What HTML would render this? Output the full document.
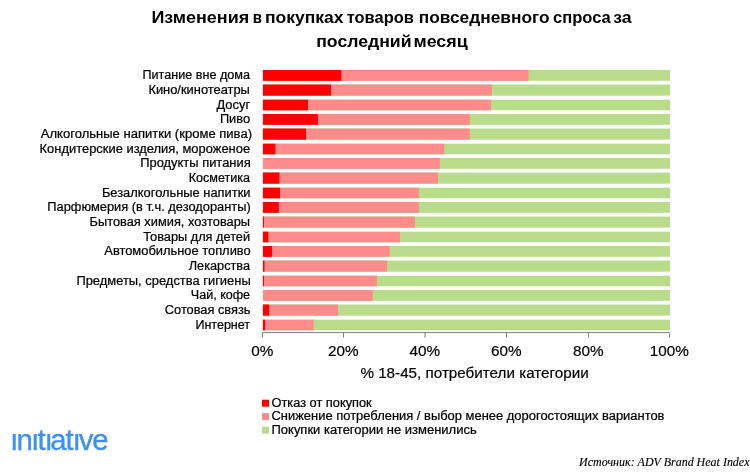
<!DOCTYPE html>
<html lang="ru"><head><meta charset="utf-8"><title>Изменения в покупках товаров повседневного спроса</title>
<style>html,body{margin:0;padding:0;background:#fff}svg{display:block}text{font-family:"Liberation Sans",sans-serif;fill:#000}.t{font-weight:bold;font-size:16.9px}.c{font-size:12.3px;stroke:#000;stroke-width:.22px}.ax{font-size:15.3px;stroke:#000;stroke-width:.2px;text-anchor:middle}.lg{font-size:12.3px;stroke:#000;stroke-width:.22px}.src{font-family:"Liberation Serif",serif;font-style:italic;font-size:12px;fill:#000;stroke:#000;stroke-width:.12px}.logo{font-size:29.3px;fill:#3f8ff2;stroke:#3f8ff2;stroke-width:.35px}</style></head><body>
<svg width="750" height="472" viewBox="0 0 750 472">
<rect width="750" height="472" fill="#fff"/>
<text class="t" y="22.7"><tspan x="151.4" textLength="97.8" lengthAdjust="spacingAndGlyphs">Изменения</tspan> <tspan x="252.8" textLength="9.2" lengthAdjust="spacingAndGlyphs">в</tspan> <tspan x="265.0" textLength="78.6" lengthAdjust="spacingAndGlyphs">покупках</tspan> <tspan x="346.7" textLength="67.2" lengthAdjust="spacingAndGlyphs">товаров</tspan> <tspan x="418.7" textLength="130.9" lengthAdjust="spacingAndGlyphs">повседневного</tspan> <tspan x="553.0" textLength="57.8" lengthAdjust="spacingAndGlyphs">спроса</tspan> <tspan x="613.2" textLength="18.4" lengthAdjust="spacingAndGlyphs">за</tspan></text>
<text class="t" y="46.9"><tspan x="316.2" textLength="95.4" lengthAdjust="spacingAndGlyphs">последний</tspan> <tspan x="413.4" textLength="54.4" lengthAdjust="spacingAndGlyphs">месяц</tspan></text>
<text class="c" x="142.5" y="79.30" textLength="107.5" lengthAdjust="spacingAndGlyphs">Питание вне дома</text>
<rect x="262.9" y="70.00" width="407.1" height="10.8" fill="#b9dc8a"/>
<rect x="262.9" y="70.00" width="265.6" height="10.8" fill="#ff8b8b"/>
<rect x="262.9" y="70.00" width="78.4" height="10.8" fill="#ff0000"/>
<text class="c" x="148.4" y="93.97" textLength="101.5" lengthAdjust="spacingAndGlyphs">Кино/кинотеатры</text>
<rect x="262.9" y="84.55" width="407.1" height="11.1" fill="#b9dc8a"/>
<rect x="262.9" y="84.55" width="229.0" height="11.1" fill="#ff8b8b"/>
<rect x="262.9" y="84.55" width="68.1" height="11.1" fill="#ff0000"/>
<text class="c" x="216.5" y="108.63" textLength="33.6" lengthAdjust="spacingAndGlyphs">Досуг</text>
<rect x="262.9" y="99.70" width="407.1" height="10.6" fill="#b9dc8a"/>
<rect x="262.9" y="99.70" width="228.1" height="10.6" fill="#ff8b8b"/>
<rect x="262.9" y="99.70" width="45.1" height="10.6" fill="#ff0000"/>
<text class="c" x="219.9" y="123.30" textLength="30.2" lengthAdjust="spacingAndGlyphs">Пиво</text>
<rect x="262.9" y="114.00" width="407.1" height="10.8" fill="#b9dc8a"/>
<rect x="262.9" y="114.00" width="206.9" height="10.8" fill="#ff8b8b"/>
<rect x="262.9" y="114.00" width="55.0" height="10.8" fill="#ff0000"/>
<text class="c" x="40.8" y="137.97" textLength="211.2" lengthAdjust="spacingAndGlyphs">Алкогольные напитки (кроме пива)</text>
<rect x="262.9" y="128.55" width="407.1" height="11.1" fill="#b9dc8a"/>
<rect x="262.9" y="128.55" width="206.9" height="11.1" fill="#ff8b8b"/>
<rect x="262.9" y="128.55" width="43.1" height="11.1" fill="#ff0000"/>
<text class="c" x="39.6" y="152.63" textLength="210.5" lengthAdjust="spacingAndGlyphs">Кондитерские изделия, мороженое</text>
<rect x="262.9" y="143.70" width="407.1" height="10.6" fill="#b9dc8a"/>
<rect x="262.9" y="143.70" width="181.4" height="10.6" fill="#ff8b8b"/>
<rect x="262.9" y="143.70" width="12.5" height="10.6" fill="#ff0000"/>
<text class="c" x="140.2" y="167.30" textLength="110.5" lengthAdjust="spacingAndGlyphs">Продукты питания</text>
<rect x="262.9" y="158.00" width="407.1" height="10.8" fill="#b9dc8a"/>
<rect x="262.9" y="158.00" width="177.0" height="10.8" fill="#ff8b8b"/>
<text class="c" x="188.7" y="181.97" textLength="61.4" lengthAdjust="spacingAndGlyphs">Косметика</text>
<rect x="262.9" y="172.55" width="407.1" height="11.1" fill="#b9dc8a"/>
<rect x="262.9" y="172.55" width="175.1" height="11.1" fill="#ff8b8b"/>
<rect x="262.9" y="172.55" width="16.5" height="11.1" fill="#ff0000"/>
<text class="c" x="101.9" y="196.63" textLength="148.6" lengthAdjust="spacingAndGlyphs">Безалкогольные напитки</text>
<rect x="262.9" y="187.70" width="407.1" height="10.6" fill="#b9dc8a"/>
<rect x="262.9" y="187.70" width="156.0" height="10.6" fill="#ff8b8b"/>
<rect x="262.9" y="187.70" width="17.1" height="10.6" fill="#ff0000"/>
<text class="c" x="47.3" y="211.30" textLength="203.4" lengthAdjust="spacingAndGlyphs">Парфюмерия (в т.ч. дезодоранты)</text>
<rect x="262.9" y="202.00" width="407.1" height="10.8" fill="#b9dc8a"/>
<rect x="262.9" y="202.00" width="156.0" height="10.8" fill="#ff8b8b"/>
<rect x="262.9" y="202.00" width="15.9" height="10.8" fill="#ff0000"/>
<text class="c" x="89.6" y="225.97" textLength="160.5" lengthAdjust="spacingAndGlyphs">Бытовая химия, хозтовары</text>
<rect x="262.9" y="216.55" width="407.1" height="11.1" fill="#b9dc8a"/>
<rect x="262.9" y="216.55" width="152.1" height="11.1" fill="#ff8b8b"/>
<rect x="262.9" y="216.55" width="1.1" height="11.1" fill="#ff0000"/>
<text class="c" x="143.3" y="240.63" textLength="106.8" lengthAdjust="spacingAndGlyphs">Товары для детей</text>
<rect x="262.9" y="231.70" width="407.1" height="10.6" fill="#b9dc8a"/>
<rect x="262.9" y="231.70" width="137.1" height="10.6" fill="#ff8b8b"/>
<rect x="262.9" y="231.70" width="5.4" height="10.6" fill="#ff0000"/>
<text class="c" x="104.3" y="255.30" textLength="146.4" lengthAdjust="spacingAndGlyphs">Автомобильное топливо</text>
<rect x="262.9" y="246.00" width="407.1" height="10.8" fill="#b9dc8a"/>
<rect x="262.9" y="246.00" width="126.8" height="10.8" fill="#ff8b8b"/>
<rect x="262.9" y="246.00" width="9.2" height="10.8" fill="#ff0000"/>
<text class="c" x="188.7" y="269.97" textLength="61.4" lengthAdjust="spacingAndGlyphs">Лекарства</text>
<rect x="262.9" y="260.55" width="407.1" height="11.1" fill="#b9dc8a"/>
<rect x="262.9" y="260.55" width="124.2" height="11.1" fill="#ff8b8b"/>
<rect x="262.9" y="260.55" width="1.6" height="11.1" fill="#ff0000"/>
<text class="c" x="76.4" y="284.63" textLength="174.3" lengthAdjust="spacingAndGlyphs">Предметы, средства гигиены</text>
<rect x="262.9" y="275.70" width="407.1" height="10.6" fill="#b9dc8a"/>
<rect x="262.9" y="275.70" width="114.0" height="10.6" fill="#ff8b8b"/>
<rect x="262.9" y="275.70" width="1.1" height="10.6" fill="#ff0000"/>
<text class="c" x="190.8" y="299.30" textLength="59.3" lengthAdjust="spacingAndGlyphs">Чай, кофе</text>
<rect x="262.9" y="290.00" width="407.1" height="10.8" fill="#b9dc8a"/>
<rect x="262.9" y="290.00" width="110.0" height="10.8" fill="#ff8b8b"/>
<text class="c" x="164.8" y="313.97" textLength="85.7" lengthAdjust="spacingAndGlyphs">Сотовая связь</text>
<rect x="262.9" y="304.55" width="407.1" height="11.1" fill="#b9dc8a"/>
<rect x="262.9" y="304.55" width="75.2" height="11.1" fill="#ff8b8b"/>
<rect x="262.9" y="304.55" width="6.2" height="11.1" fill="#ff0000"/>
<text class="c" x="195.4" y="328.63" textLength="54.7" lengthAdjust="spacingAndGlyphs">Интернет</text>
<rect x="262.9" y="319.70" width="407.1" height="10.6" fill="#b9dc8a"/>
<rect x="262.9" y="319.70" width="50.7" height="10.6" fill="#ff8b8b"/>
<rect x="262.9" y="319.70" width="2.2" height="10.6" fill="#ff0000"/>
<path d="M262.5 337.6V332.6H669.5V337.6" fill="none" stroke="#7f7f7f" stroke-width="1"/>
<text class="ax" x="262.3" y="355.5">0%</text>
<path d="M343.5 332.6V337.6" stroke="#7f7f7f" stroke-width="1"/>
<text class="ax" x="343.3" y="355.5">20%</text>
<path d="M425.0 332.6V337.6" stroke="#7f7f7f" stroke-width="1"/>
<text class="ax" x="424.8" y="355.5">40%</text>
<path d="M506.5 332.6V337.6" stroke="#7f7f7f" stroke-width="1"/>
<text class="ax" x="506.3" y="355.5">60%</text>
<path d="M588.5 332.6V337.6" stroke="#7f7f7f" stroke-width="1"/>
<text class="ax" x="588.3" y="355.5">80%</text>
<text class="ax" x="669.3" y="355.5">100%</text>
<text x="360.4" y="378.1" font-size="15.3" stroke="#000" stroke-width=".2" textLength="228.3" lengthAdjust="spacingAndGlyphs">% 18-45, потребители категории</text>
<rect x="262" y="399.7" width="7" height="7" fill="#ff0000"/>
<text class="lg" x="271.5" y="407.4" textLength="100.2" lengthAdjust="spacingAndGlyphs">Отказ от покупок</text>
<rect x="262" y="413.1" width="7" height="7" fill="#ff8b8b"/>
<text class="lg" x="271.5" y="420.3" textLength="393.0" lengthAdjust="spacingAndGlyphs">Снижение потребления / выбор менее дорогостоящих вариантов</text>
<rect x="262" y="426.7" width="7" height="7" fill="#b9dc8a"/>
<text class="lg" x="271.5" y="433.7" textLength="205.2" lengthAdjust="spacingAndGlyphs">Покупки категории не изменились</text>
<clipPath id="lc"><rect x="0" y="433.7" width="130" height="30"/><rect x="37.6" y="428" width="8.2" height="7"/><rect x="65.7" y="428" width="8.2" height="7"/></clipPath>
<text class="logo" x="11.10 16.53 31.95 37.42 45.40 50.36 65.52 73.50 78.83 92.13" y="450.1" clip-path="url(#lc)">initiative</text>
<text class="src" x="579.1" y="466.1" textLength="170.4" lengthAdjust="spacingAndGlyphs">Источник: ADV Brand Heat Index</text>
</svg></body></html>
